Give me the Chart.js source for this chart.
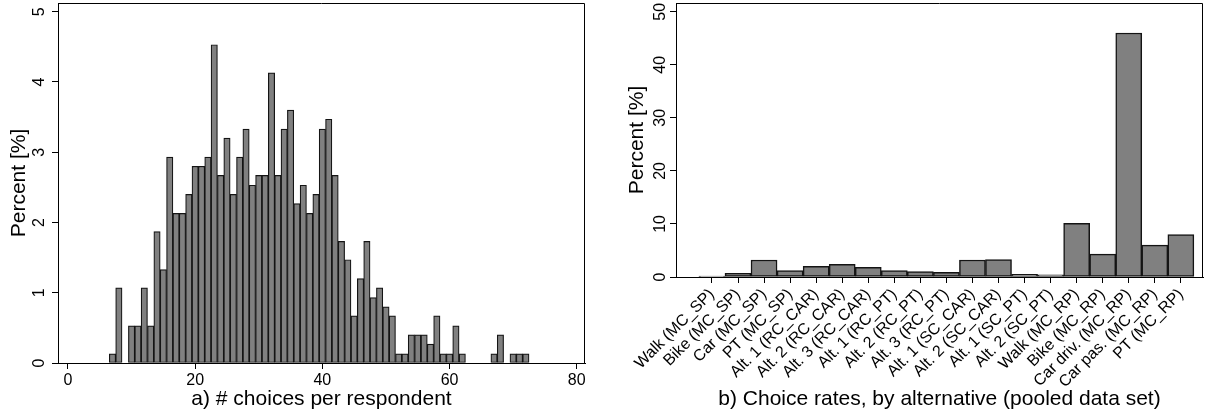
<!DOCTYPE html>
<html><head><meta charset="utf-8">
<script src="https://cdn.jsdelivr.net/npm/chart.js@4.4.1/dist/chart.umd.min.js"></script>
<style>
html,body{margin:0;padding:0;background:#fff;}
#wrapA{position:absolute;left:0;top:0;width:600px;height:417px;}
#wrapB{position:absolute;left:600px;top:0;width:611px;height:417px;}
</style></head><body>
<div id="wrapA"><canvas id="histA" width="600" height="417"></canvas></div>
<div id="wrapB"><canvas id="barB" width="611" height="417"></canvas></div>
<script>
// ---- Panel a) data: # choices per respondent (bins of width 1)
const choiceCounts = [7,8,9,10,11,12,13,14,15,16,17,18,19,20,21,22,23,24,25,26,27,28,29,30,31,32,33,34,35,36,37,38,39,40,41,42,43,44,45,46,47,48,49,50,51,52,53,54,55,56,57,58,59,60,61,62,63,64,65,66,67,68,69,70,71,72];
const choicePercents = [0.13,1.07,0,0.53,0.53,1.07,0.53,1.87,1.33,2.93,2.13,2.13,2.40,2.80,2.80,2.93,4.53,2.67,3.20,2.40,2.93,3.33,2.53,2.67,2.67,4.13,2.67,3.33,3.60,2.27,2.53,2.13,2.40,3.33,3.47,2.67,1.73,1.47,0.67,1.20,1.73,0.93,1.07,0.80,0.67,0.13,0.13,0.40,0.40,0.40,0.27,0.67,0.13,0.13,0.53,0.13,0,0,0,0,0.13,0.40,0,0.13,0.13,0.13];
const histXTicks = [0,20,40,60,80];
const histYTicks = [0,1,2,3,4,5];

// ---- Panel b) data: choice rates by alternative
const alternatives = ["Walk (MC_SP)","Bike (MC_SP)","Car (MC_SP)","PT (MC_SP)","Alt. 1 (RC_CAR)","Alt. 2 (RC_CAR)","Alt. 3 (RC_CAR)","Alt. 1 (RC_PT)","Alt. 2 (RC_PT)","Alt. 3 (RC_PT)","Alt. 1 (SC_CAR)","Alt. 2 (SC_CAR)","Alt. 1 (SC_PT)","Alt. 2 (SC_PT)","Walk (MC_RP)","Bike (MC_RP)","Car driv. (MC_RP)","Car pas. (MC_RP)","PT (MC_RP)"];
const choiceRates = [0.15,0.7,3.2,1.2,2.0,2.4,1.8,1.2,1.0,0.9,3.2,3.3,0.5,0.4,10.1,4.3,46.0,6.0,8.0];
const rateYTicks = [0,10,20,30,40,50];

Chart.defaults.font.family = '"Liberation Sans", Arial, Helvetica, sans-serif';
Chart.defaults.color = '#000';
Chart.defaults.animation = false;

const FILL = '#808080', EDGE = '#141414';

const stataPlugin = {
  id: 'stataFrame',
  afterDraw(chart, args, opts) {
    const {ctx, chartArea: a, scales} = chart;
    ctx.save();
    ctx.strokeStyle = '#000'; ctx.lineWidth = 1;
    ctx.beginPath();
    ctx.moveTo(Math.round(a.left) + 0.5, Math.round(a.top) + 0.5);
    ctx.lineTo(Math.round(a.right) - 0.5, Math.round(a.top) + 0.5);
    ctx.lineTo(Math.round(a.right) - 0.5, Math.round(a.bottom));
    ctx.stroke();
    const y = scales.y;
    ctx.font = '16px "Liberation Sans", Arial, sans-serif';
    ctx.fillStyle = '#000'; ctx.textAlign = 'center'; ctx.textBaseline = 'middle';
    y.ticks.forEach(t => {
      const py = y.getPixelForValue(t.value);
      ctx.save(); ctx.translate(opts.labelX, py); ctx.rotate(-Math.PI / 2);
      ctx.fillText(String(t.value), 0, 1); ctx.restore();
    });
    ctx.restore();
  }
};

function axisCommon() {
  return {
    grid: {display: true, drawOnChartArea: false, drawTicks: true, tickLength: 6, tickColor: '#000', tickWidth: 1, offset: false},
    border: {display: true, color: '#000', width: 1}
  };
}

// ---- Panel a
const histData = choiceCounts.map((x, i) => ({x: x, y: choicePercents[i]})).filter(d => d.y > 0);
new Chart(document.getElementById('histA'), {
  type: 'bar',
  data: {datasets: [{data: histData, backgroundColor: FILL, borderColor: EDGE, borderWidth: 1.2, borderSkipped: false, barPercentage: 1, categoryPercentage: 1}]},
  options: {
    responsive: false, devicePixelRatio: 1,
    layout: {padding: {left: 0, top: 3, right: 15, bottom: 0}},
    plugins: {legend: {display: false}, tooltip: {enabled: false}, stataFrame: {labelX: 39}},
    scales: {
      x: Object.assign(axisCommon(), {
        type: 'linear', offset: false, min: -1.57, max: 81.3,
        afterBuildTicks: s => { s.ticks = histXTicks.map(v => ({value: v})); },
        afterFit: s => { s.height = 54; },
        ticks: {font: {size: 16}, padding: 2, maxRotation: 0, autoSkip: false},
        title: {display: true, text: 'a) # choices per respondent', font: {size: 21}, padding: {top: 0, bottom: 5}}
      }),
      y: Object.assign(axisCommon(), {
        type: 'linear', min: 0, max: 5.124,
        afterBuildTicks: s => { s.ticks = histYTicks.map(v => ({value: v})); },
        afterFit: s => { s.width = 58; },
        ticks: {display: false},
        title: {display: true, text: 'Percent [%]', font: {size: 21}, padding: {top: 7, bottom: 0}}
      })
    }
  },
  plugins: [stataPlugin]
});

// ---- Panel b
const rateData = alternatives.map((n, i) => ({x: i + 1, y: choiceRates[i]}));
new Chart(document.getElementById('barB'), {
  type: 'bar',
  data: {datasets: [{data: rateData, backgroundColor: FILL, borderColor: EDGE, borderWidth: 1.5, borderSkipped: false, barPercentage: 1, categoryPercentage: 1}]},
  options: {
    responsive: false, devicePixelRatio: 1,
    layout: {padding: {left: 0, top: 3, right: 8, bottom: 0}},
    plugins: {legend: {display: false}, tooltip: {enabled: false}, stataFrame: {labelX: 60}},
    scales: {
      x: Object.assign(axisCommon(), {
        type: 'linear', offset: false, min: -0.38, max: 19.85,
        afterBuildTicks: s => { s.ticks = alternatives.map((n, i) => ({value: i + 1})); },
        afterFit: s => { s.height = 140; },
        ticks: {font: {size: 16}, padding: 2, minRotation: 45, maxRotation: 45, autoSkip: false,
                callback: (v, i) => alternatives[i]},
        title: {display: true, text: 'b) Choice rates, by alternative (pooled data set)', font: {size: 21}, padding: {top: 0, bottom: 5}}
      }),
      y: Object.assign(axisCommon(), {
        type: 'linear', min: 0, max: 51.65,
        afterBuildTicks: s => { s.ticks = rateYTicks.map(v => ({value: v})); },
        afterFit: s => { s.width = 76; },
        ticks: {display: false},
        title: {display: true, text: 'Percent [%]', font: {size: 21}, padding: {top: 25, bottom: 0}}
      })
    }
  },
  plugins: [stataPlugin]
});
</script>
</body></html>
